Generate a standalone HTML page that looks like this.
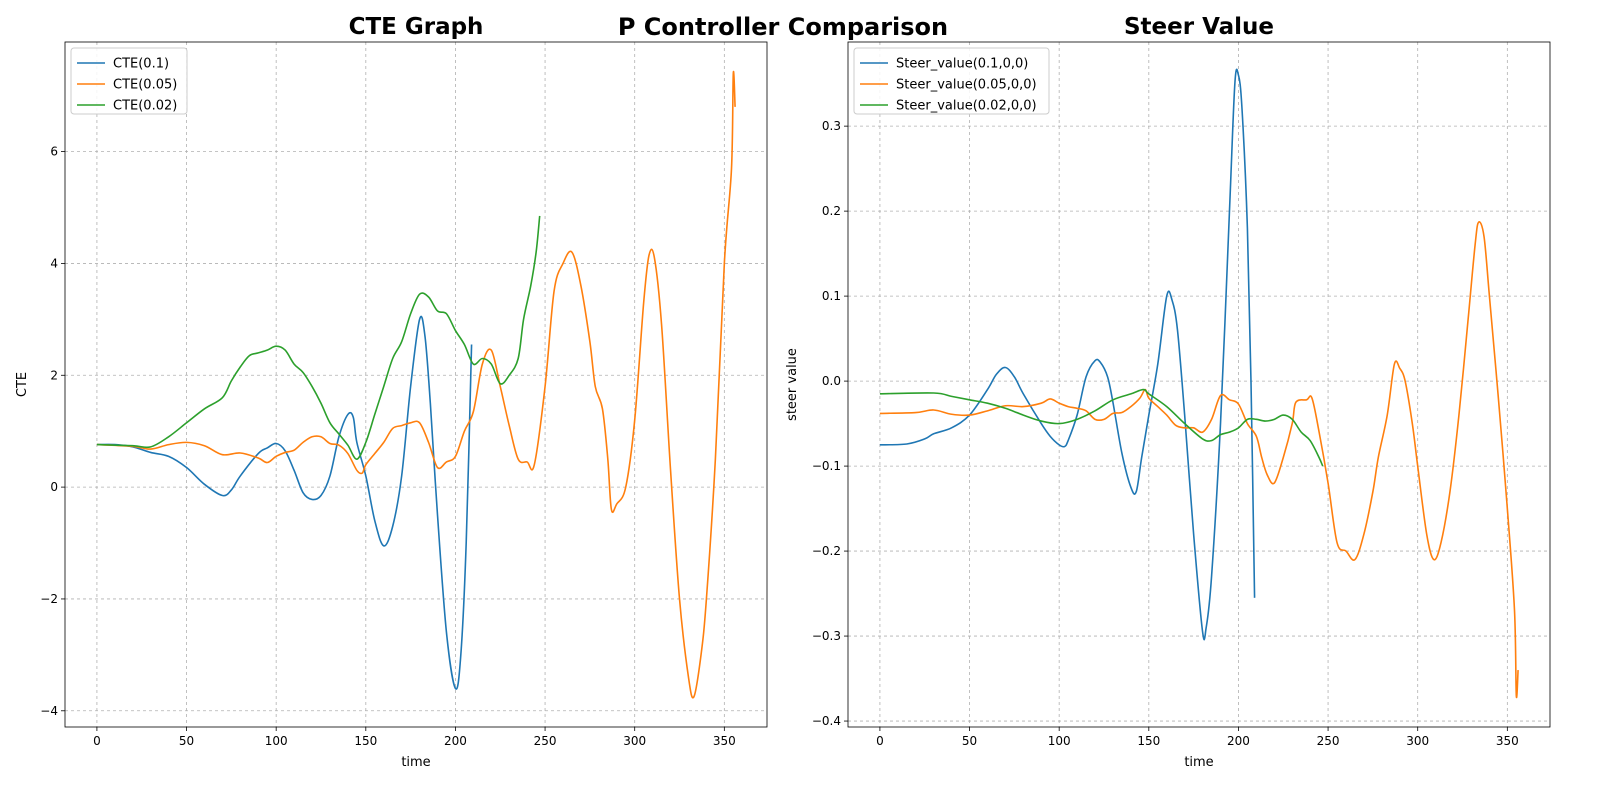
<!DOCTYPE html>
<html><head><meta charset="utf-8">
<style>
html,body{margin:0;padding:0;background:#fff;width:1600px;height:800px;overflow:hidden;}
svg{display:block;font-family:"DejaVu Sans","Liberation Sans",sans-serif;overflow:hidden;}
</style></head>
<body>
<svg id="fig" width="1600" height="800" viewBox="0 0 1600 800" xmlns="http://www.w3.org/2000/svg">
<rect width="1600" height="800" fill="#fff"/>
<text x="783" y="35" text-anchor="middle" font-size="24" font-weight="bold">P Controller Comparison</text>
<g id="left"></g>
<g id="right"></g>
</svg>
<script>
// ---- CTE data ----
const cteBlueT=[0,10,20,30,40,50,60,70,75,80,90,95,100,105,110,115,120,125,130,135,140,143,145,150,155,160,165,170,175,180,183,186,190,195,200,203,206,209];
const cteBlueV=[0.76,0.76,0.72,0.62,0.55,0.35,0.05,-0.15,-0.05,0.2,0.6,0.7,0.78,0.65,0.3,-0.1,-0.22,-0.15,0.2,0.9,1.3,1.25,0.8,0.2,-0.6,-1.05,-0.7,0.2,1.8,3.0,2.7,1.5,-0.5,-2.6,-3.6,-3.0,-1.0,2.55];
const cteOrangeT=[0,20,30,40,50,60,70,80,90,95,100,105,110,115,120,125,130,135,140,145,148,150,155,160,165,170,175,180,185,190,195,200,205,210,215,220,225,230,235,240,244,250,255,260,265,270,275,278,282,285,287,290,295,300,305,308,311,315,320,325,330,333,337,340,345,350,354,355,356];
const cteOrangeV=[0.76,0.73,0.68,0.76,0.8,0.74,0.58,0.61,0.52,0.44,0.55,0.62,0.66,0.8,0.9,0.9,0.78,0.75,0.6,0.3,0.25,0.4,0.6,0.8,1.05,1.1,1.15,1.15,0.8,0.35,0.45,0.55,1.0,1.35,2.2,2.45,1.8,1.1,0.5,0.45,0.4,1.8,3.5,4.0,4.2,3.6,2.6,1.8,1.4,0.5,-0.4,-0.3,0.0,1.2,3.3,4.15,4.1,2.9,0.3,-2.0,-3.4,-3.75,-3.0,-2.0,0.5,4.0,5.7,7.4,6.8];
const cteGreenT=[0,20,30,40,50,60,70,75,80,85,90,95,100,105,110,115,120,125,130,135,140,145,150,155,160,165,170,175,180,185,190,195,200,205,210,215,220,225,230,235,238,242,245,247];
const cteGreenV=[0.76,0.74,0.72,0.9,1.15,1.4,1.6,1.9,2.15,2.35,2.4,2.45,2.52,2.45,2.2,2.05,1.8,1.5,1.15,0.95,0.75,0.5,0.8,1.3,1.8,2.3,2.6,3.1,3.45,3.4,3.15,3.1,2.8,2.55,2.2,2.3,2.2,1.85,2.0,2.3,3.0,3.6,4.2,4.85];
// ---- Steer data ----
const stBlueT=[0,15,25,30,40,50,60,65,70,75,80,90,95,100,103,105,110,115,120,123,127,130,135,140,143,146,150,155,160,163,166,170,175,180,182,185,190,195,198,200,202,205,207,209];
const stBlueV=[-0.075,-0.074,-0.068,-0.062,-0.055,-0.04,-0.01,0.008,0.016,0.005,-0.015,-0.05,-0.065,-0.075,-0.077,-0.07,-0.04,0.005,0.024,0.022,0.005,-0.025,-0.085,-0.125,-0.13,-0.09,-0.04,0.02,0.1,0.095,0.06,-0.04,-0.18,-0.295,-0.29,-0.23,-0.05,0.2,0.35,0.36,0.32,0.18,0.0,-0.255];
const stOrangeT=[0,20,30,40,50,60,70,80,90,95,100,105,110,115,120,125,130,135,140,145,148,150,155,160,165,170,175,180,185,190,195,200,205,210,213,216,220,225,230,232,238,241,245,250,255,260,265,270,275,278,283,287,290,293,297,300,305,309,313,318,323,328,332,334,337,340,345,350,354,355,356];
const stOrangeV=[-0.038,-0.037,-0.034,-0.039,-0.04,-0.035,-0.029,-0.03,-0.026,-0.021,-0.026,-0.03,-0.032,-0.035,-0.045,-0.045,-0.038,-0.037,-0.03,-0.02,-0.01,-0.02,-0.03,-0.04,-0.052,-0.055,-0.055,-0.06,-0.045,-0.017,-0.022,-0.027,-0.05,-0.065,-0.09,-0.11,-0.12,-0.09,-0.05,-0.025,-0.022,-0.02,-0.06,-0.12,-0.19,-0.2,-0.21,-0.18,-0.13,-0.09,-0.04,0.02,0.015,0.0,-0.05,-0.1,-0.18,-0.21,-0.19,-0.13,-0.04,0.07,0.16,0.187,0.17,0.1,-0.02,-0.15,-0.27,-0.37,-0.34];
const stGreenT=[0,30,40,50,60,70,80,90,100,110,120,130,140,147,150,160,170,180,185,190,195,200,205,210,215,220,225,230,235,240,245,247];
const stGreenV=[-0.015,-0.014,-0.018,-0.022,-0.026,-0.032,-0.04,-0.047,-0.05,-0.045,-0.035,-0.022,-0.015,-0.01,-0.015,-0.03,-0.05,-0.068,-0.07,-0.063,-0.06,-0.055,-0.045,-0.045,-0.047,-0.045,-0.04,-0.045,-0.06,-0.07,-0.09,-0.1];
const xTicks=[0,50,100,150,200,250,300,350];
const cteYTicks=[-4,-2,0,2,4,6];
const stYTicks=[-0.4,-0.3,-0.2,-0.1,0.0,0.1,0.2,0.3];
const cteLabels=["CTE(0.1)","CTE(0.05)","CTE(0.02)"];
const stLabels=["Steer_value(0.1,0,0)","Steer_value(0.05,0,0)","Steer_value(0.02,0,0)"];
const colors=["#1f77b4","#ff7f0e","#2ca02c"];

const NS="http://www.w3.org/2000/svg";
function mk(tag,attrs,parent){const e=document.createElementNS(NS,tag);for(const k in attrs)e.setAttribute(k,attrs[k]);parent.appendChild(e);return e;}
function smoothPath(pts){
  let d="M"+pts[0][0].toFixed(2)+","+pts[0][1].toFixed(2);
  for(let i=0;i<pts.length-1;i++){
    const p0=pts[i-1]||pts[i],p1=pts[i],p2=pts[i+1],p3=pts[i+2]||p2;
    const c1x=p1[0]+(p2[0]-p0[0])/6,c1y=p1[1]+(p2[1]-p0[1])/6;
    const c2x=p2[0]-(p3[0]-p1[0])/6,c2y=p2[1]-(p3[1]-p1[1])/6;
    d+=" C"+c1x.toFixed(2)+","+c1y.toFixed(2)+" "+c2x.toFixed(2)+","+c2y.toFixed(2)+" "+p2[0].toFixed(2)+","+p2[1].toFixed(2);
  }
  return d;
}
function chart(g,opt){
  const L=opt.L,R=opt.R,T=42,B=727;
  const xs=v=>L+(v-opt.xmin)/(opt.xmax-opt.xmin)*(R-L);
  const ys=v=>B-(v-opt.ymin)/(opt.ymax-opt.ymin)*(B-T);
  const grid=mk("g",{},g);
  
  
  xTicks.forEach(t=>{
    const x=xs(t);
    mk("line",{x1:x,x2:x,y1:T,y2:B,stroke:"#b0b0b0","stroke-dasharray":"3,3","stroke-width":0.8},grid);
    mk("line",{x1:x,x2:x,y1:B,y2:B+4,stroke:"#000","stroke-width":0.8},g);
    const tx=mk("text",{x:x,y:B+18,"text-anchor":"middle","font-size":12},g);
    tx.textContent=t;
    
    
  });
  opt.yTicks.forEach(t=>{
    const y=ys(t);
    mk("line",{x1:L,x2:R,y1:y,y2:y,stroke:"#b0b0b0","stroke-dasharray":"3,3","stroke-width":0.8},grid);
    mk("line",{x1:L-4,x2:L,y1:y,y2:y,stroke:"#000","stroke-width":0.8},g);
    const tx=mk("text",{x:L-7,y:y+4,"text-anchor":"end","font-size":12},g);
    tx.textContent=opt.fmt(t);
    
    
  });
  opt.series.forEach((s,i)=>{
    const pts=s[0].map((t,j)=>[xs(t),ys(s[1][j])]);
    const p=mk("path",{d:smoothPath(pts),fill:"none",stroke:colors[i],"stroke-width":1.6,"stroke-linejoin":"round"},g);
    
    
  });
  mk("rect",{x:L,y:T,width:R-L,height:B-T,fill:"none",stroke:"#000","stroke-width":0.8},g);
  const ti=mk("text",{x:(L+R)/2,y:34,"text-anchor":"middle","font-size":23,"font-weight":"bold"},g);
  ti.textContent=opt.title;
  
  
  const xl=mk("text",{x:(L+R)/2,y:766,"text-anchor":"middle","font-size":13},g);
  xl.textContent="time";
  
  
  const cy=(T+B)/2;
  const yl=mk("text",{x:opt.ylx,y:cy,"text-anchor":"middle","font-size":13,transform:"rotate(-90 "+opt.ylx+" "+cy+")"},g);
  yl.textContent=opt.ylabel;
  
  
  const lg=mk("g",{},g);
  
  
  mk("rect",{x:L+6,y:T+6,width:opt.lw,height:66,rx:3,fill:"#fff","fill-opacity":0.85,stroke:"#ccc"},lg);
  opt.labels.forEach((lab,i)=>{
    const y=T+21+i*21;
    mk("line",{x1:L+12,x2:L+40,y1:y,y2:y,stroke:colors[i],"stroke-width":1.6},lg);
    const t=mk("text",{x:L+48,y:y+4.5,"font-size":13},lg);
    t.textContent=lab;
    
    
  });
}
chart(document.getElementById("left"),{L:65,R:767,xmin:-17.8,xmax:373.8,ymin:-4.29,ymax:7.96,yTicks:cteYTicks,fmt:t=>t<0?"\u2212"+Math.abs(t):""+t,
  series:[[cteBlueT,cteBlueV],[cteOrangeT,cteOrangeV],[cteGreenT,cteGreenV]],title:"CTE Graph",ylabel:"CTE",ylx:26,labels:cteLabels,lw:116});
chart(document.getElementById("right"),{L:848,R:1550,xmin:-17.8,xmax:373.8,ymin:-0.407,ymax:0.399,yTicks:stYTicks,fmt:t=>(t<0?"\u2212":"")+Math.abs(t).toFixed(1),
  series:[[stBlueT,stBlueV],[stOrangeT,stOrangeV],[stGreenT,stGreenV]],title:"Steer Value",ylabel:"steer value",ylx:796,labels:stLabels,lw:195});
</script>
</body></html>
